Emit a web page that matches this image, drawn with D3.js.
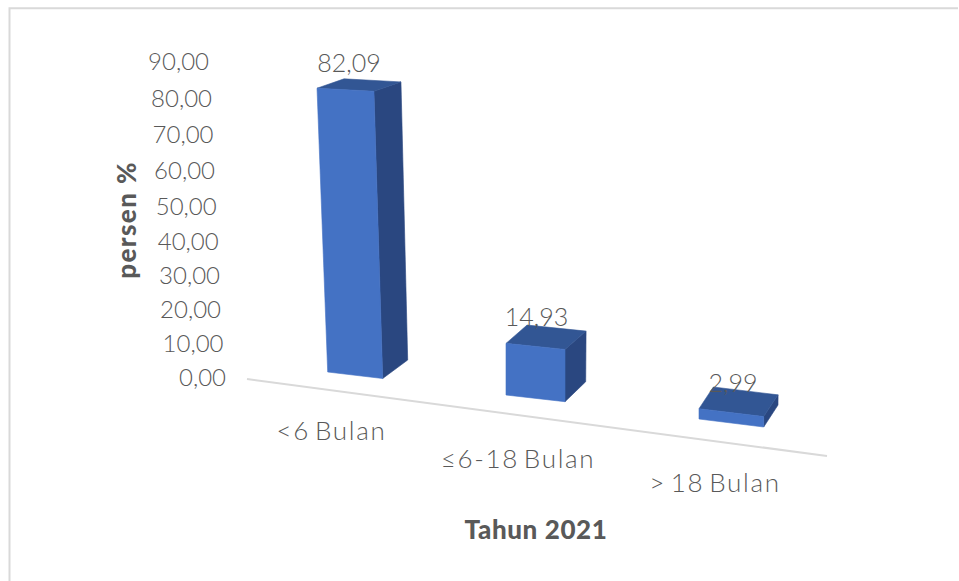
<!DOCTYPE html>
<html><head><meta charset="utf-8">
<script src="https://cdn.jsdelivr.net/npm/d3@7"></script>
<style>html,body{margin:0;padding:0;background:#fff}svg{display:block}</style>
</head><body><div id="c"></div>
<script>
const categories = ["<6 Bulan", "≤6-18 Bulan", "> 18 Bulan"];
const values = [82.09, 14.93, 2.99];
const valueLabels = ["82,09", "14,93", "2,99"];
const yTicks = [0, 10, 20, 30, 40, 50, 60, 70, 80, 90];
const xTitle = "Tahun 2021";
const yTitle = "persen %";

const W = 959, H = 581, FONT = "Lato, 'Open Sans', sans-serif";
const svg = d3.select("#c").append("svg").attr("width", W).attr("height", H);

// perspective projection of the chart, expressed as scales over category position
const pos = d3.scalePoint().domain(categories).range([0, 2]);
const idx = [0, 1, 2];
const leftX = d3.scaleLinear().domain(idx).range([327.7, 506, 699]);
const rightX = d3.scaleLinear().domain(idx).range([382.7, 565, 763.7]);
const leftY = d3.scaleLinear().domain(idx).range([372, 395, 419]);
const rightY = d3.scaleLinear().domain(idx).range([378.5, 401.7, 427]);
const depthX = d3.scaleLinear().domain(idx).range([25, 20.7, 14.3]);
const depthY = d3.scaleLinear().domain(idx).range([-18.5, -20, -22]);
const lean = d3.scaleLinear().domain(idx).range([-0.13, 0, 0]);
const height = d3.scaleLinear().domain([0, 90]).range([0, 313]);
const depthRiseY = d3.scaleLinear().domain([0, 90]).range([0, 10]);
const depthRiseX = d3.scaleLinear().domain([0, 90]).range([0, 2.2]);

function project(cat, side, depth, v) {
  const i = pos(cat);
  return [
    leftX(i) + side * (rightX(i) - leftX(i)) + depth * (depthX(i) + depthRiseX(v)) + v * lean(i) * (1 - 0.18 * side),
    leftY(i) + side * (rightY(i) - leftY(i)) + depth * (depthY(i) + depthRiseY(v)) - height(v) * (1 + 0.012 * (side - 0.5))
  ];
}

// chart frame
const frame = d3.path();
frame.moveTo(9.5, H); frame.lineTo(9.5, 8.3); frame.lineTo(958, 8.3);
svg.append("path").attr("d", frame.toString()).attr("fill", "none").attr("stroke", "#d9d9d9").attr("stroke-width", 2);

// category axis line
const axisX = d3.scaleLinear().domain([0, 1]).range([247, 827]);
const axisY = d3.scaleLinear().domain([0, 1]).range([379, 456]);
svg.append("line").attr("x1", axisX(0)).attr("y1", axisY(0)).attr("x2", axisX(1)).attr("y2", axisY(1))
  .attr("stroke", "#d9d9d9").attr("stroke-width", 2);

// value axis (labels follow the perspective, so the spacing narrows towards zero)
const tickY = d3.scaleLinear().domain(yTicks).range([378, 344, 310, 276, 242, 207, 171, 135, 99, 62]);
const tickRight = d3.scaleLinear().domain(yTicks).range([226, 223.5, 221, 220, 218.7, 216.7, 215, 213.5, 212, 209]);
svg.append("g").selectAll("text").data(yTicks).join("text")
  .attr("x", d => tickRight(d)).attr("y", d => tickY(d)).attr("dy", "0.35em")
  .attr("text-anchor", "end").attr("font-family", FONT).attr("font-weight", 300).attr("font-size", 24).attr("fill", "#595959")
  .text(d => d3.format(".2f")(d).replace(".", ","));

// bars
const line = d3.line();
const faces = [
  { key: "side", fill: "#2a4780", pts: v => [[1,0,0],[1,1,0],[1,1,v],[1,0,v]] },
  { key: "top", fill: "#325694", pts: v => [[0,0,v],[1,0,v],[1,1,v],[0,1,v]] },
  { key: "front", fill: "#4472c4", pts: v => [[0,0,0],[1,0,0],[1,0,v],[0,0,v]] }
];
const rows = categories.map((c, i) => ({ c, v: values[i], label: valueLabels[i] }));
const bars = svg.append("g").selectAll("g").data(rows).join("g");
faces.forEach(f => {
  bars.append("path").attr("fill", f.fill).attr("stroke", f.fill).attr("stroke-width", 0.6).attr("stroke-linejoin", "round")
    .attr("d", r => line(f.pts(r.v).map(p => project(r.c, p[0], p[1], p[2]))) + "Z");
});

// value labels
const labelDx = d3.scaleLinear().domain(idx).range([-10, -9.5, -5.5]);
const labelDy = d3.scaleLinear().domain(idx).range([-13, -11, -10]);
svg.append("g").selectAll("text").data(rows).join("text")
  .attr("x", r => project(r.c, 0.5, 0.5, r.v)[0] + labelDx(pos(r.c)))
  .attr("y", r => project(r.c, 0.5, 0.5, r.v)[1] + labelDy(pos(r.c)))
  .attr("text-anchor", "middle").attr("font-family", FONT).attr("font-weight", 300).attr("font-size", 25).attr("fill", "#595959")
  .text(r => r.label);

// category labels
const catX = d3.scaleLinear().domain(idx).range([331.5, 518, 715]);
const catY = d3.scaleLinear().domain(idx).range([440, 467.7, 491.7]);
svg.append("g").selectAll("text").data(categories).join("text")
  .attr("x", c => catX(pos(c))).attr("y", c => catY(pos(c)))
  .attr("text-anchor", "middle").attr("font-family", FONT).attr("font-weight", 300).attr("font-size", 26)
  .attr("letter-spacing", 1.7).attr("word-spacing", -4).attr("fill", "#595959")
  .text(c => c);

// axis titles
svg.append("text").attr("x", 536).attr("y", 539).attr("text-anchor", "middle")
  .attr("font-family", FONT).attr("font-weight", 900).attr("font-size", 26).attr("letter-spacing", 0.6).attr("fill", "#595959").text(xTitle);
svg.append("text").attr("transform", "translate(136,220) rotate(-90)").attr("text-anchor", "middle")
  .attr("font-family", FONT).attr("font-weight", 900).attr("font-size", 26).attr("letter-spacing", 1.4).attr("fill", "#595959").text(yTitle);
</script></body></html>
